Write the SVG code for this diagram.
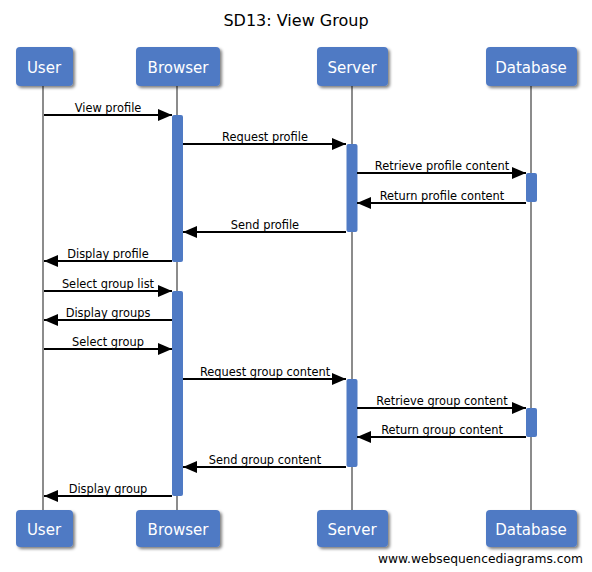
<svg xmlns="http://www.w3.org/2000/svg" width="592" height="572" viewBox="0 0 592 572">
<defs>
<filter id="sh" x="-20%" y="-20%" width="150%" height="160%">
<feGaussianBlur in="SourceAlpha" stdDeviation="1.5"/>
<feOffset dx="2" dy="2" result="b"/>
<feComponentTransfer><feFuncA type="linear" slope="0.5"/></feComponentTransfer>
<feMerge><feMergeNode/><feMergeNode in="SourceGraphic"/></feMerge>
</filter>
<marker id="ah" markerWidth="14" markerHeight="12" refX="14" refY="6" orient="auto" markerUnits="userSpaceOnUse">
<path d="M0,0 L14,6 L0,12 Z" fill="#000"/>
</marker>
</defs>
<style>
.box{fill:#4f7ac4;}
.bt{font-family:"DejaVu Sans",Verdana,sans-serif;font-size:15px;fill:#fff;text-anchor:middle;}
.life{stroke:#8c8c8c;stroke-width:2;fill:none;}
.act{fill:#4f7ac4;}
.msg{stroke:#000;stroke-width:2;fill:none;marker-end:url(#ah);}
.lbl{font-family:"DejaVu Sans",Verdana,sans-serif;font-size:11.4px;fill:#000;text-anchor:middle;}
.title{font-family:"DejaVu Sans",Verdana,sans-serif;font-size:16px;fill:#000;text-anchor:middle;}
.foot{font-family:"DejaVu Sans",Verdana,sans-serif;font-size:12.5px;fill:#000;}
</style>
<rect width="592" height="572" fill="#fff"/>
<text class="title" x="296" y="26">SD13: View Group</text>
<g id="lifelines">
<line class="life" x1="43" y1="86" x2="43" y2="510"/>
<line class="life" x1="177" y1="86" x2="177" y2="510"/>
<line class="life" x1="352" y1="86" x2="352" y2="510"/>
<line class="life" x1="531" y1="86" x2="531" y2="510"/>
</g>
<g id="User">
<rect class="box" x="16" y="47" width="57" height="39" rx="4" filter="url(#sh)"/>
<text class="bt" x="44" y="73">User</text>
<rect class="box" x="16" y="510" width="57" height="37" rx="4" filter="url(#sh)"/>
<text class="bt" x="44" y="535">User</text>
</g>
<g id="Browser">
<rect class="box" x="136" y="47" width="84" height="39" rx="4" filter="url(#sh)"/>
<text class="bt" x="178" y="73">Browser</text>
<rect class="box" x="136" y="510" width="84" height="37" rx="4" filter="url(#sh)"/>
<text class="bt" x="178" y="535">Browser</text>
<rect class="act" x="172" y="115" width="11" height="147" rx="2"/>
<rect class="act" x="172" y="291" width="11" height="205" rx="2"/>
</g>
<g id="Server">
<rect class="box" x="317" y="47" width="71" height="39" rx="4" filter="url(#sh)"/>
<text class="bt" x="352" y="73">Server</text>
<rect class="box" x="317" y="510" width="71" height="37" rx="4" filter="url(#sh)"/>
<text class="bt" x="352" y="535">Server</text>
<rect class="act" x="346.5" y="144" width="11" height="88" rx="2"/>
<rect class="act" x="346.5" y="379" width="11" height="88" rx="2"/>
</g>
<g id="Database">
<rect class="box" x="486" y="47" width="91" height="39" rx="4" filter="url(#sh)"/>
<text class="bt" x="531" y="73">Database</text>
<rect class="box" x="486" y="510" width="91" height="37" rx="4" filter="url(#sh)"/>
<text class="bt" x="531" y="535">Database</text>
<rect class="act" x="526" y="173" width="11" height="29" rx="2"/>
<rect class="act" x="526" y="408" width="11" height="29" rx="2"/>
</g>
<g id="connectors">
<line class="msg" x1="44" y1="115" x2="172" y2="115"/>
<text class="lbl" x="108" y="112">View profile</text>
<line class="msg" x1="183" y1="144" x2="346" y2="144"/>
<text class="lbl" x="265" y="141">Request profile</text>
<line class="msg" x1="357" y1="173" x2="526" y2="173"/>
<text class="lbl" x="442" y="170">Retrieve profile content</text>
<line class="msg" x1="526" y1="203" x2="357" y2="203"/>
<text class="lbl" x="442" y="200">Return profile content</text>
<line class="msg" x1="346" y1="232" x2="183" y2="232"/>
<text class="lbl" x="265" y="229">Send profile</text>
<line class="msg" x1="172" y1="261" x2="44" y2="261"/>
<text class="lbl" x="108" y="258">Display profile</text>
<line class="msg" x1="44" y1="291" x2="172" y2="291"/>
<text class="lbl" x="108" y="288">Select group list</text>
<line class="msg" x1="172" y1="320" x2="44" y2="320"/>
<text class="lbl" x="108" y="317">Display groups</text>
<line class="msg" x1="44" y1="349" x2="172" y2="349"/>
<text class="lbl" x="108" y="346">Select group</text>
<line class="msg" x1="183" y1="379" x2="346" y2="379"/>
<text class="lbl" x="265" y="376">Request group content</text>
<line class="msg" x1="357" y1="408" x2="526" y2="408"/>
<text class="lbl" x="442" y="405">Retrieve group content</text>
<line class="msg" x1="526" y1="437" x2="357" y2="437"/>
<text class="lbl" x="442" y="434">Return group content</text>
<line class="msg" x1="346" y1="467" x2="183" y2="467"/>
<text class="lbl" x="265" y="464">Send group content</text>
<line class="msg" x1="172" y1="496" x2="44" y2="496"/>
<text class="lbl" x="108" y="493">Display group</text>
</g>
<text class="foot" x="378" y="563" textLength="205" lengthAdjust="spacingAndGlyphs">www.websequencediagrams.com</text>
</svg>
